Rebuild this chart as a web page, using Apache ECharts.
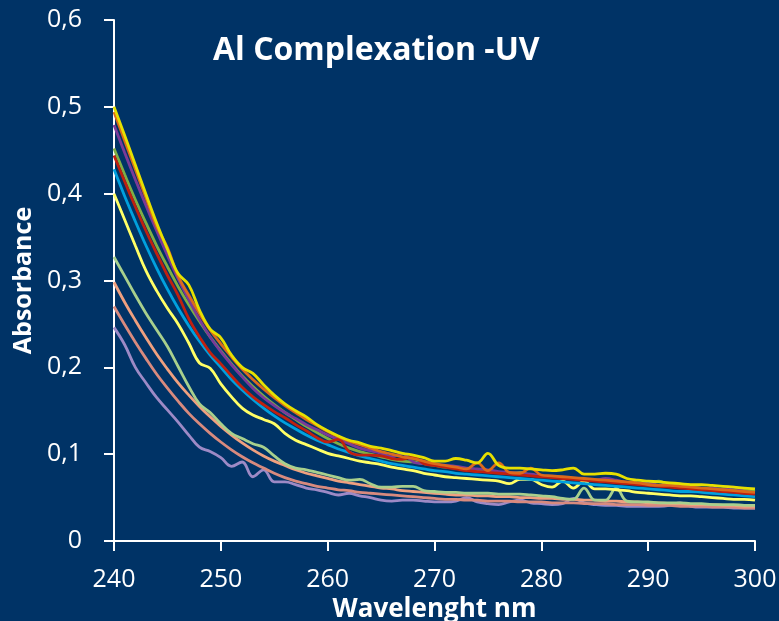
<!DOCTYPE html>
<html>
<head>
<meta charset="utf-8">
<script src="https://cdn.jsdelivr.net/npm/echarts@6/dist/echarts.min.js"></script>
<style>
html,body{margin:0;padding:0;background:#003366;}
#chart{width:779px;height:621px;}
</style>
</head>
<body>
<div id="chart"></div>
<script>
const wavelengths = [240,241,242,243,244,245,246,247,248,249,250,251,252,253,254,255,256,257,258,259,260,261,262,263,264,265,266,267,268,269,270,271,272,273,274,275,276,277,278,279,280,281,282,283,284,285,286,287,288,289,290,291,292,293,294,295,296,297,298,299,300];
const yTicks = [0,0.1,0.2,0.3,0.4,0.5,0.6];

const lavender = [.246,.226,.200,.182,.165,.151,.137,.122,.108,.103,.096,.086,.091,.074,.082,.068,.068,.065,.061,.059,.056,.053,.055,.052,.050,.047,.046,.047,.047,.046,.045,.045,.046,.050,.045,.043,.042,.045,.047,.044,.043,.042,.043,.049,.044,.042,.041,.041,.040,.040,.040,.040,.041,.044,.040,.039,.039,.039,.038,.038,.038];
const salmon2 = [.270,.249,.229,.210,.192,.176,.161,.147,.135,.124,.114,.105,.097,.090,.084,.078,.073,.069,.066,.063,.061,.059,.058,.056,.055,.054,.053,.052,.051,.050,.049,.048,.048,.047,.047,.046,.046,.046,.045,.045,.045,.044,.044,.044,.043,.043,.043,.042,.042,.042,.041,.041,.041,.040,.040,.040,.039,.039,.039,.038,.038];
const salmon1 = [.298,.275,.254,.234,.215,.198,.182,.168,.155,.143,.132,.122,.113,.105,.098,.092,.087,.082,.078,.075,.072,.069,.067,.065,.063,.061,.060,.058,.057,.056,.055,.054,.053,.053,.052,.052,.051,.051,.050,.050,.049,.049,.048,.048,.047,.047,.046,.046,.045,.045,.044,.044,.043,.043,.042,.042,.042,.041,.041,.040,.040];
const lightGreen = [.327,.305,.283,.262,.243,.224,.201,.178,.158,.148,.135,.124,.118,.112,.108,.098,.089,.084,.082,.079,.076,.073,.070,.071,.066,.062,.062,.063,.063,.058,.057,.056,.056,.055,.055,.055,.054,.054,.054,.053,.052,.051,.049,.048,.061,.047,.047,.061,.046,.045,.045,.044,.044,.044,.043,.043,.042,.042,.042,.041,.041];
const paleYellow = [.400,.370,.340,.311,.288,.268,.250,.228,.205,.199,.181,.166,.153,.145,.140,.135,.124,.116,.111,.106,.101,.098,.095,.092,.090,.088,.085,.083,.081,.078,.076,.074,.073,.072,.071,.070,.069,.066,.071,.071,.065,.062,.069,.061,.069,.060,.060,.059,.058,.056,.055,.054,.053,.052,.052,.051,.050,.049,.048,.048,.047];
const blue = [.428,.397,.368,.340,.314,.290,.268,.248,.230,.214,.200,.186,.174,.163,.153,.144,.136,.129,.122,.116,.111,.106,.102,.098,.095,.092,.089,.087,.085,.083,.081,.080,.078,.077,.076,.075,.074,.073,.072,.071,.070,.069,.068,.067,.066,.065,.064,.063,.062,.061,.060,.059,.058,.057,.057,.056,.055,.054,.053,.052,.051];
const green = [.452,.422,.393,.366,.340,.316,.293,.272,.253,.235,.219,.204,.190,.178,.167,.157,.148,.140,.132,.125,.118,.112,.107,.103,.100,.097,.094,.092,.091,.089,.087,.085,.084,.082,.081,.080,.079,.078,.079,.076,.075,.074,.073,.072,.071,.070,.069,.068,.067,.066,.066,.069,.064,.063,.062,.061,.060,.059,.058,.058,.057];
const purple = [.479,.447,.416,.386,.357,.329,.302,.278,.255,.235,.218,.203,.189,.176,.165,.156,.148,.141,.134,.128,.122,.117,.112,.107,.104,.101,.097,.101,.091,.089,.088,.087,.086,.084,.083,.082,.080,.079,.078,.077,.075,.074,.073,.072,.071,.070,.072,.070,.067,.066,.068,.064,.066,.062,.061,.060,.061,.059,.062,.057,.056];
const red = [.444,.414,.385,.357,.331,.306,.283,.256,.235,.217,.204,.190,.177,.166,.157,.149,.142,.134,.127,.119,.114,.117,.103,.099,.099,.098,.095,.094,.097,.089,.087,.085,.083,.081,.080,.079,.078,.077,.076,.075,.074,.073,.072,.071,.070,.069,.068,.067,.066,.065,.064,.063,.062,.061,.060,.059,.058,.057,.056,.055,.054];
const orange = [.494,.461,.428,.395,.362,.338,.305,.283,.262,.243,.227,.212,.198,.186,.175,.165,.156,.148,.140,.133,.126,.120,.115,.111,.107,.103,.100,.097,.095,.092,.089,.087,.085,.083,.090,.081,.090,.079,.078,.084,.076,.075,.074,.073,.072,.071,.070,.069,.068,.067,.065,.064,.064,.063,.062,.061,.060,.059,.058,.057,.056];
const yellow = [.500,.467,.433,.399,.366,.336,.308,.295,.266,.244,.234,.214,.200,.193,.180,.168,.158,.150,.143,.134,.127,.121,.116,.113,.109,.107,.104,.101,.099,.096,.092,.092,.095,.093,.090,.101,.087,.084,.084,.083,.082,.081,.082,.084,.077,.077,.078,.077,.072,.070,.069,.068,.067,.066,.065,.065,.064,.063,.062,.061,.060];

const seriesDefs = [
  ['lavender', lavender, '#9D8AC6'],
  ['salmon2', salmon2, '#D88A7E'],
  ['salmon1', salmon1, '#EFA07F'],
  ['lightGreen', lightGreen, '#A8D08D'],
  ['paleYellow', paleYellow, '#FFFF66'],
  ['blue', blue, '#00A0DE'],
  ['green', green, '#7FAF45'],
  ['purple', purple, '#7A3A98'],
  ['red', red, '#C0200F'],
  ['orange', orange, '#DC6A1C'],
  ['yellow', yellow, '#E6E000']
];

const chart = echarts.init(document.getElementById('chart'), null, {renderer:'canvas'});
const fontFamily = '"Open Sans", sans-serif';
chart.setOption({
  backgroundColor: '#003366',
  animation: false,
  title: {
    text: 'Al Complexation -UV',
    left: 213, top: 35, padding: 0,
    textStyle: {color:'#ffffff', fontSize: 32, fontWeight:'bold', fontFamily: fontFamily}
  },
  grid: {left:114, right:24, top:20, bottom:80, containLabel:false, outerBoundsMode:'none'},
  xAxis: {
    type:'value', min:240, max:300, interval:10,
    name:'Wavelenght nm', nameLocation:'middle', nameGap:52,
    nameTextStyle:{color:'#ffffff', fontSize:26, fontWeight:'bold', fontFamily:fontFamily},
    axisLine:{show:true, lineStyle:{color:'#ffffff', width:2}},
    axisTick:{show:true, inside:false, length:10, lineStyle:{color:'#ffffff', width:2}},
    axisLabel:{color:'#ffffff', fontSize:25, fontFamily:fontFamily, margin:26, showMinLabel:true, showMaxLabel:true},
    splitLine:{show:false}
  },
  yAxis: {
    type:'value', min:yTicks[0], max:yTicks[yTicks.length-1], interval:0.1,
    name:'Absorbance', nameLocation:'middle', nameGap:76, nameRotate:90,
    nameTextStyle:{color:'#ffffff', fontSize:25, fontWeight:'bold', fontFamily:fontFamily},
    axisLine:{show:true, lineStyle:{color:'#ffffff', width:2}},
    axisTick:{show:true, inside:false, length:10, lineStyle:{color:'#ffffff', width:2}},
    axisLabel:{color:'#ffffff', fontSize:25, fontFamily:fontFamily, margin:32,
      formatter: v => v === 0 ? '0' : v.toFixed(1).replace('.', ',')},
    splitLine:{show:false}
  },
  series: seriesDefs.map(([name, vals, color]) => ({
    name: name, type:'line', showSymbol:false, smooth:0.4,
    data: wavelengths.map((w, i) => [w, vals[i]]),
    lineStyle:{color: color, width:2.8},
    itemStyle:{color: color}
  }))
});
</script>
</body>
</html>
